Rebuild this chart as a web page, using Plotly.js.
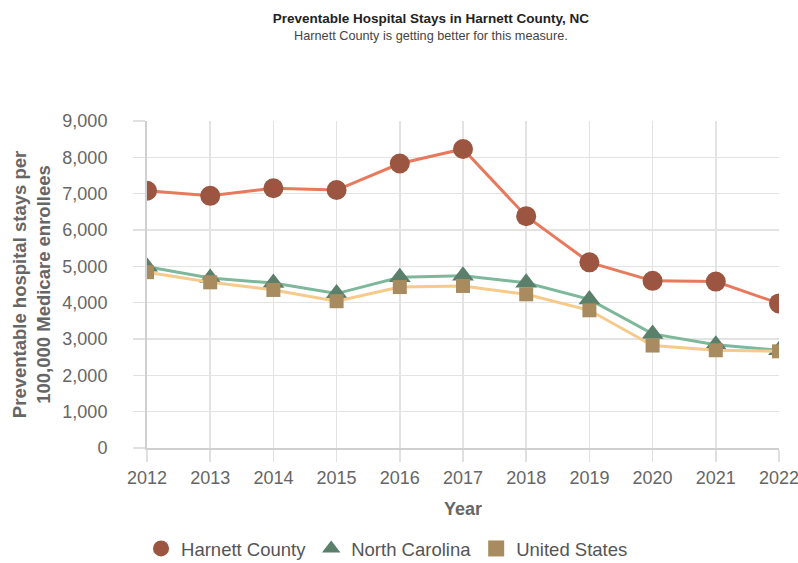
<!DOCTYPE html>
<html>
<head>
<meta charset="utf-8">
<script src="https://cdn.plot.ly/plotly-3.0.1.min.js"></script>
<style>
  html, body { margin: 0; padding: 0; background: #fff; }
  #plot { width: 798px; height: 563px; }
</style>
</head>
<body>
<div id="plot"></div>
<script>
// Preventable hospital stays per 100,000 Medicare enrollees

let years = ["2012", "2013", "2014", "2015", "2016", "2017", "2018", "2019", "2020", "2021", "2022"];
let harnett = [7080, 6940, 7150, 7100, 7830, 8230, 6380, 5110, 4600, 4580, 3980];
let northCarolina = [4990, 4680, 4540, 4250, 4700, 4740, 4550, 4090, 3140, 2840, 2690];
let unitedStates = [4840, 4560, 4350, 4040, 4430, 4460, 4230, 3790, 2820, 2690, 2660];
let yTicks = [0, 1000, 2000, 3000, 4000, 5000, 6000, 7000, 8000, 9000];

let font = "Liberation Sans, Arial, sans-serif";

let series = [
  { name: "Harnett County", y: harnett, line: "#e8795c", marker: "#9b5541", symbol: "circle", size: 20 },
  { name: "North Carolina", y: northCarolina, line: "#7db89b", marker: "#5a7f6a", symbol: "triangle-up", size: 19 },
  { name: "United States", y: unitedStates, line: "#f5ca8a", marker: "#a88c5f", symbol: "square", size: 14 }
];

let data = [];

// lines + markers (no legend here)
series.forEach(s => {
  data.push({
    x: years,
    y: s.y,
    name: s.name,
    mode: "lines+markers",
    type: "scatter",
    showlegend: false,
    line: { color: s.line, width: 3 },
    marker: { symbol: s.symbol, size: s.size, color: s.marker }
  });
});

// legend-only entries, markers without the line
series.forEach(s => {
  data.push({
    x: [null],
    y: [null],
    name: s.name,
    mode: "markers",
    type: "scatter",
    showlegend: true,
    marker: { symbol: s.symbol, size: 30, color: s.marker }
  });
});

let layout = {
  width: 798,
  height: 563,
  font: { family: font, color: "#666" },
  paper_bgcolor: "#fff",
  plot_bgcolor: "#fff",
  title: {
    text: "<b>Preventable Hospital Stays in Harnett County, NC</b><br><span style='color:#444;font-size:12.7px'>Harnett County is getting better for this measure.</span>",
    font: { family: font, size: 13.5, color: "#222" },
    x: 0.54,
    xref: "container",
    xanchor: "center",
    y: 0.96,
    yref: "container",
    yanchor: "middle"
  },
  margin: { l: 147, r: 19, t: 121, b: 115, pad: 0 },
  xaxis: {
    type: "category",
    range: [0, 10],
    showgrid: true,
    gridcolor: "#e3e3e3",
    gridwidth: 1.5,
    showline: true,
    linecolor: "#d0d0d0",
    linewidth: 2,
    ticks: "outside",
    ticklen: 12,
    tickcolor: "#e0e0e0",
    tickwidth: 1.5,
    tickfont: { family: font, size: 18, color: "#666" },
    zeroline: false,
    title: {
      text: "<b>Year</b>",
      font: { family: font, size: 18, color: "#666" },
      standoff: 16
    }
  },
  yaxis: {
    range: [0, 9000],
    tickvals: yTicks,
    tickformat: ",d",
    showgrid: true,
    gridcolor: "#e3e3e3",
    gridwidth: 1.5,
    showline: true,
    linecolor: "#d0d0d0",
    linewidth: 2,
    ticks: "outside",
    ticklen: 12,
    tickcolor: "#e0e0e0",
    tickwidth: 1.5,
    ticklabelstandoff: 22,
    tickfont: { family: font, size: 18, color: "#666" },
    zeroline: false,
    title: {
      text: "<b>Preventable hospital stays per<br>100,000 Medicare enrollees</b>",
      font: { family: font, size: 18.5, color: "#666" },
      standoff: 7
    }
  },
  showlegend: true,
  legend: {
    orientation: "h",
    xref: "container",
    yref: "container",
    x: 0.485,
    xanchor: "center",
    y: 0.025,
    yanchor: "middle",
    font: { family: font, size: 18.5, color: "#555" },
    itemsizing: "trace",
    traceorder: "normal"
  }
};

Plotly.newPlot("plot", data, layout, { displayModeBar: false, staticPlot: true });
</script>
</body>
</html>
